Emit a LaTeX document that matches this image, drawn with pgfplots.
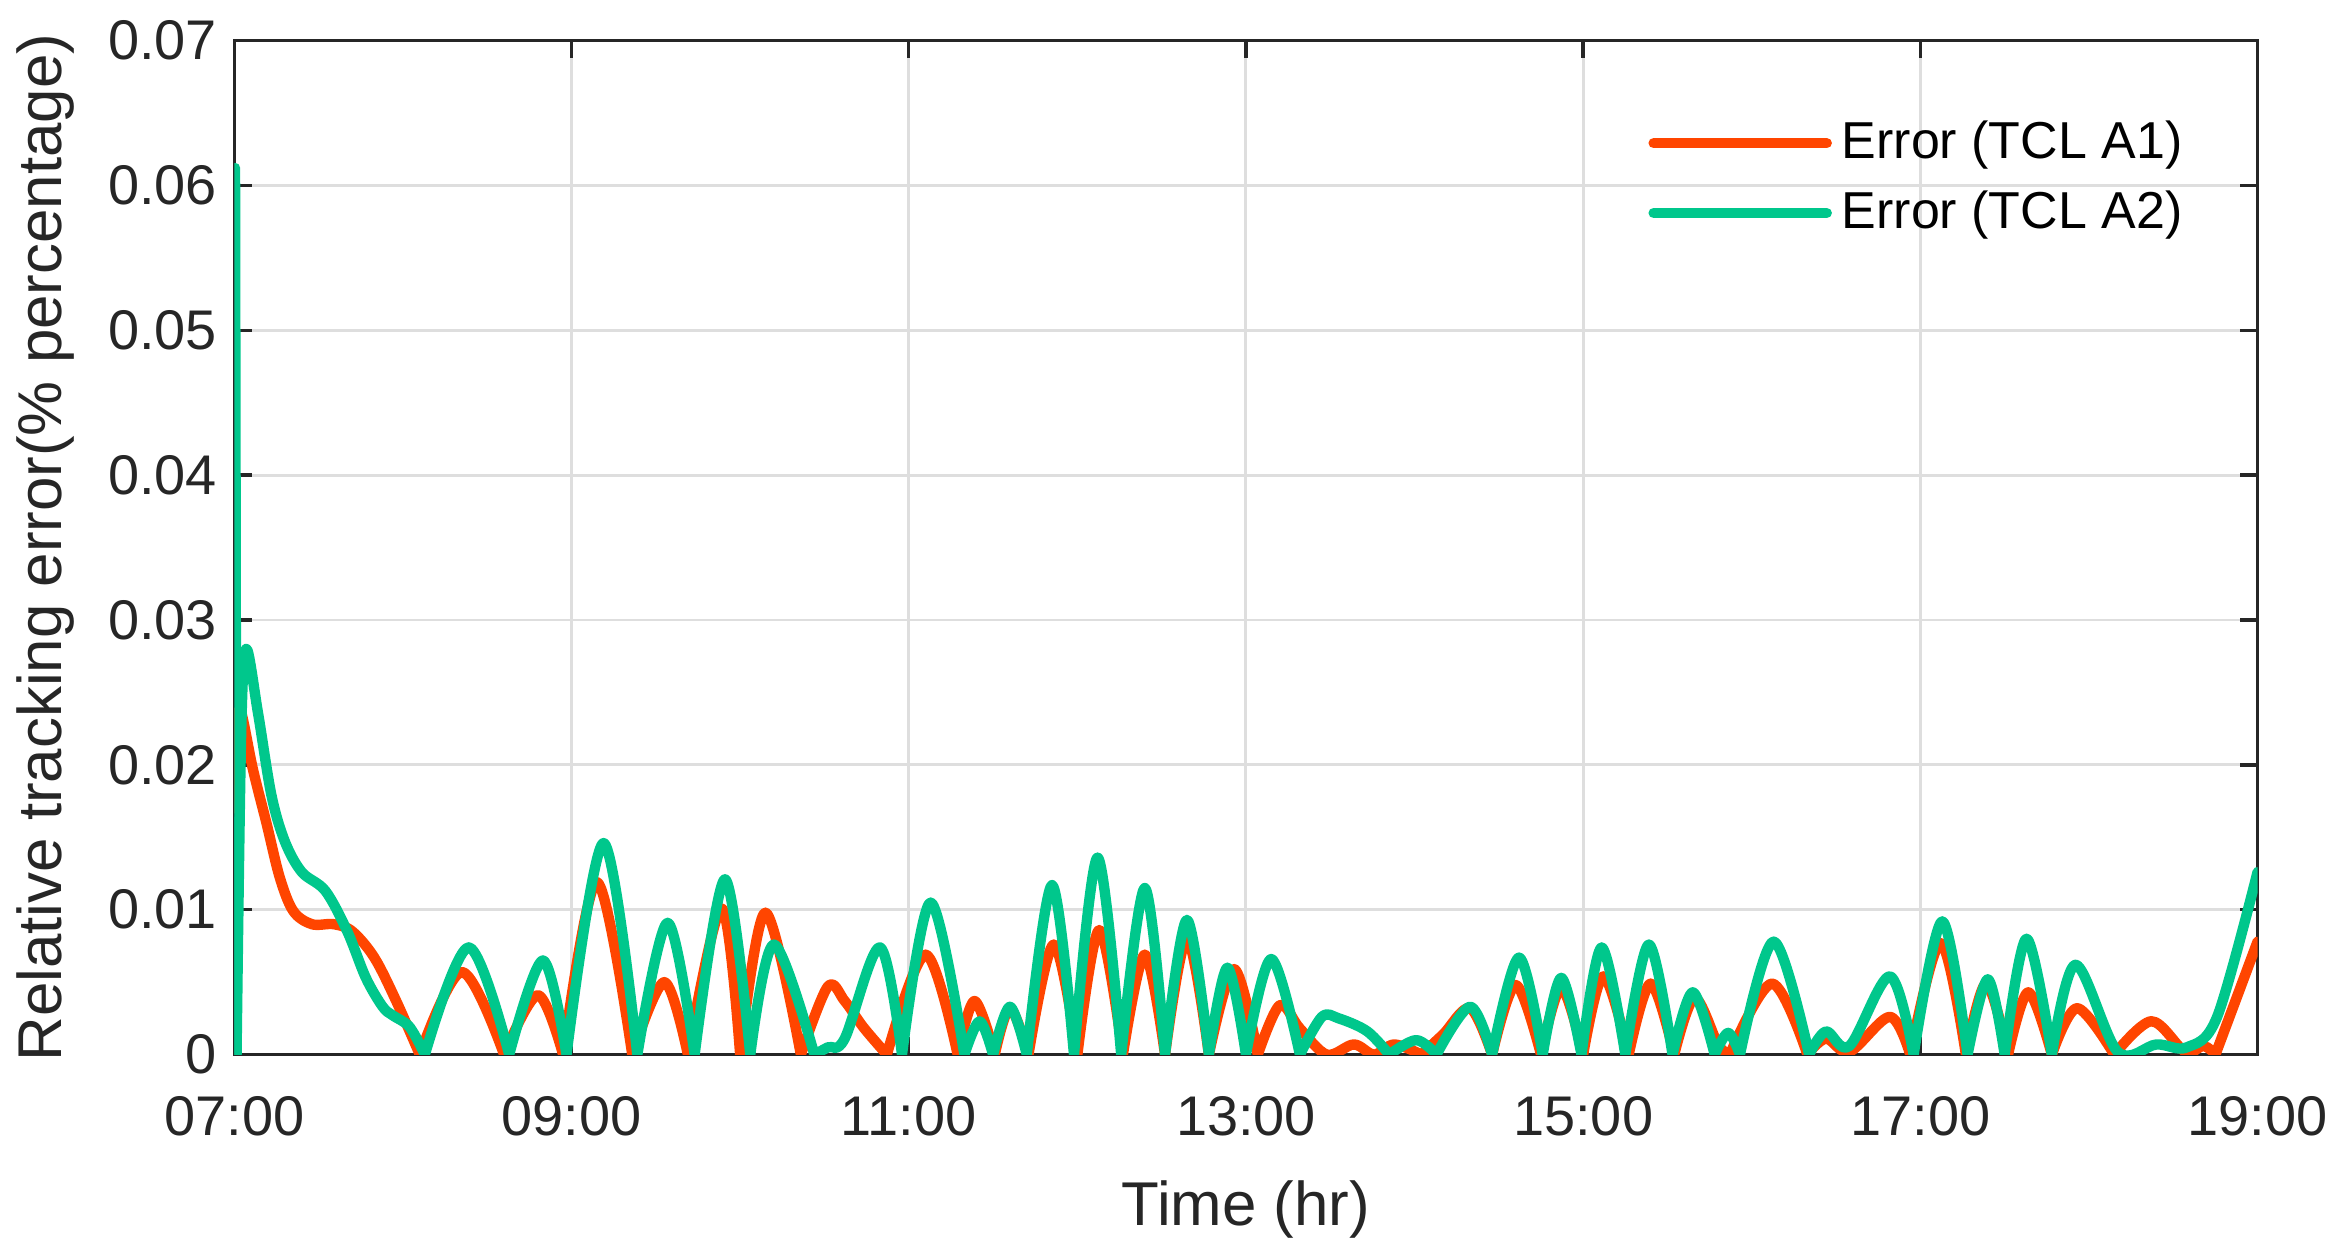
\documentclass[border=0pt]{standalone}
\usepackage{pgfplots}
\pgfplotsset{compat=1.18}
\usepackage{fontspec}
\setmainfont{Liberation Sans}
\definecolor{cA}{RGB}{255,69,0}
\definecolor{cB}{RGB}{0,199,140}
\definecolor{axc}{RGB}{38,38,38}
\definecolor{gridc}{RGB}{222,222,222}
\begin{document}
\begin{tikzpicture}
\begin{axis}[
  name=main,
  scale only axis,
  width=409pt, height=205pt,
  xmin=7, xmax=19, ymin=0, ymax=0.07,
  xtick={7,9,11,13,15,17,19},
  xticklabels={07:00,09:00,11:00,13:00,15:00,17:00,19:00},
  ytick={0,0.01,0.02,0.03,0.04,0.05,0.06,0.07},
  yticklabels={0,0.01,0.02,0.03,0.04,0.05,0.06,0.07},
  scaled y ticks=false,
  /pgf/number format/assume math mode=true,
  tick label style={font=\fontsize{11.3}{13}\selectfont, text=axc},
  xticklabel style={yshift=-5pt},
  label style={font=\fontsize{12.5}{14}\selectfont, text=axc},
  xlabel={Time (hr)},
  ylabel={Relative tracking error(\% percentage)},
  xlabel style={yshift=-2pt},
  grid=major,
  major grid style={gridc, line width=0.6pt},
  axis line style={axc, line width=0.7pt},
  major tick style={axc, line width=0.7pt},
  major tick length=3.6pt,
  tick align=inside,
  unbounded coords=jump,
  legend style={at={(1,1)}, anchor=north east, xshift=-10pt, yshift=-12pt, draw=none, fill=none,
    font=\fontsize{10.5}{12}\selectfont, row sep=1pt},
  legend cell align=left,
  legend image code/.code={\draw[#1] (0pt,0pt) -- (35pt,0pt);},
]
\addplot[cA, line width=2.1pt, smooth, tension=0.55, line join=round, line cap=round] coordinates {
(7.0,0.017)(7.015,0.0215)(7.035,0.0238)(7.11,0.0197)(7.19,0.016)(7.27,0.0122)(7.35,0.0099)(7.46,0.009)(7.59,0.009)(7.70,0.0085)(7.83,0.0067)(7.96,0.0037)(8.1,0)
(8.1,nan)(8.1,0)(8.35,0.0057)(8.6,0)
(8.6,nan)(8.6,0)(8.8,0.0041)(8.95,0)
(8.95,nan)(8.95,0)(9.15,0.0119)(9.36,0)
(9.36,nan)(9.36,0)(9.55,0.005)(9.69,0)
(9.69,nan)(9.69,0)(9.89,0.0101)(10.0,0)
(10.0,nan)(10.0,0)(10.15,0.0098)(10.36,0)
(10.36,nan)(10.36,0)(10.52,0.0047)(10.62,0.0037)(10.73,0.0019)(10.87,0)
(10.87,nan)(10.87,0)(11.1,0.0069)(11.29,0)
(11.29,nan)(11.29,0)(11.39,0.0037)(11.51,0)
(11.51,nan)(11.51,0)(11.6,0.0032)(11.71,0)
(11.71,nan)(11.71,0)(11.86,0.0076)(12.0,0)
(12.0,nan)(12.0,0)(12.13,0.0086)(12.27,0)
(12.27,nan)(12.27,0)(12.4,0.0069)(12.52,0)
(12.52,nan)(12.52,0)(12.65,0.008)(12.78,0)
(12.78,nan)(12.78,0)(12.93,0.0059)(13.07,0)
(13.07,nan)(13.07,0)(13.2,0.0034)(13.32,0.0018)(13.48,0)(13.64,0.0007)(13.76,0)(13.88,0.0007)(14.04,0)
(14.04,nan)(14.04,0)(14.17,0.0014)(14.33,0.0032)(14.46,0)
(14.46,nan)(14.46,0)(14.6,0.0048)(14.75,0)
(14.75,nan)(14.75,0)(14.87,0.0046)(15.0,0)
(15.0,nan)(15.0,0)(15.12,0.0054)(15.27,0)
(15.27,nan)(15.27,0)(15.4,0.0049)(15.54,0)
(15.54,nan)(15.54,0)(15.66,0.0039)(15.8,0.0007)(15.87,0)
(15.87,nan)(15.87,0)(16.12,0.0049)(16.33,0)
(16.33,nan)(16.33,0)(16.44,0.0011)(16.58,0.0002)(16.82,0.0026)(16.94,0)
(16.94,nan)(16.94,0)(17.12,0.0077)(17.27,0)
(17.27,nan)(17.27,0)(17.39,0.0049)(17.52,0)
(17.52,nan)(17.52,0)(17.64,0.0043)(17.78,0)
(17.78,nan)(17.78,0)(17.93,0.0032)(18.15,0)
(18.15,nan)(18.15,0)(18.37,0.0023)(18.57,0.0002)(18.68,0.0006)(18.75,0)
(18.75,nan)(18.75,0)(19.0,0.0078)
};
\addlegendentry{Error (TCL A1)}
\addplot[cB, line width=2.1pt, smooth, tension=0.55, line join=round, line cap=round] coordinates {
(7.013,0)(7.04,0.022)(7.07,0.028)(7.14,0.0236)(7.22,0.0179)(7.30,0.0147)(7.40,0.0126)(7.54,0.0113)(7.67,0.0085)(7.78,0.0053)(7.88,0.0033)(7.94,0.0027)(8.04,0.0019)(8.13,0)
(8.13,nan)(8.13,0)(8.39,0.0074)(8.63,0)
(8.63,nan)(8.63,0)(8.83,0.0065)(8.97,0)
(8.97,nan)(8.97,0)(9.19,0.0146)(9.39,0)
(9.39,nan)(9.39,0)(9.57,0.0091)(9.73,0)
(9.73,nan)(9.73,0)(9.91,0.0121)(10.06,0)
(10.06,nan)(10.06,0)(10.2,0.0076)(10.44,0)
(10.44,nan)(10.44,0)(10.52,0.0005)(10.62,0.0011)(10.83,0.0074)(10.96,0)
(10.96,nan)(10.96,0)(11.13,0.0105)(11.33,0)
(11.33,nan)(11.33,0)(11.42,0.0023)(11.5,0)
(11.5,nan)(11.5,0)(11.6,0.0033)(11.7,0)
(11.7,nan)(11.7,0)(11.85,0.0117)(11.98,0)
(11.98,nan)(11.98,0)(12.12,0.0136)(12.26,0)
(12.26,nan)(12.26,0)(12.4,0.0115)(12.52,0)
(12.52,nan)(12.52,0)(12.65,0.0093)(12.78,0)
(12.78,nan)(12.78,0)(12.89,0.006)(13.0,0)
(13.0,nan)(13.0,0)(13.15,0.0066)(13.32,0)
(13.32,nan)(13.32,0)(13.45,0.0026)(13.55,0.0025)(13.72,0.0016)(13.85,0)
(13.85,nan)(13.85,0)(14.01,0.001)(14.13,0)
(14.13,nan)(14.13,0)(14.33,0.0033)(14.46,0)
(14.46,nan)(14.46,0)(14.62,0.0067)(14.76,0)
(14.76,nan)(14.76,0)(14.87,0.0053)(14.99,0)
(14.99,nan)(14.99,0)(15.11,0.0074)(15.25,0)
(15.25,nan)(15.25,0)(15.39,0.0076)(15.53,0)
(15.53,nan)(15.53,0)(15.65,0.0043)(15.78,0)
(15.78,nan)(15.78,0)(15.86,0.0015)(15.93,0)
(15.93,nan)(15.93,0)(16.13,0.0078)(16.34,0)
(16.34,nan)(16.34,0)(16.44,0.0016)(16.58,0.0006)(16.82,0.0054)(16.96,0)
(16.96,nan)(16.96,0)(17.13,0.0092)(17.28,0)
(17.28,nan)(17.28,0)(17.4,0.0052)(17.5,0)
(17.5,nan)(17.5,0)(17.63,0.008)(17.78,0)
(17.78,nan)(17.78,0)(17.92,0.0062)(18.17,0.0002)(18.4,0.0007)(18.58,0.0005)(18.76,0.0026)(19.0,0.0126)
};
\addlegendentry{Error (TCL A2)}
\addplot[cB, line width=2.1pt, sharp plot, line join=round, line cap=round, forget plot] coordinates {
(7.0,0.043)(7.004,0.0612)(7.013,0)
};
\end{axis}
\path (main.north) ++(0,8.2pt) coordinate (topmargin);
\path (topmargin) -- (main.north);
\end{tikzpicture}
\end{document}
